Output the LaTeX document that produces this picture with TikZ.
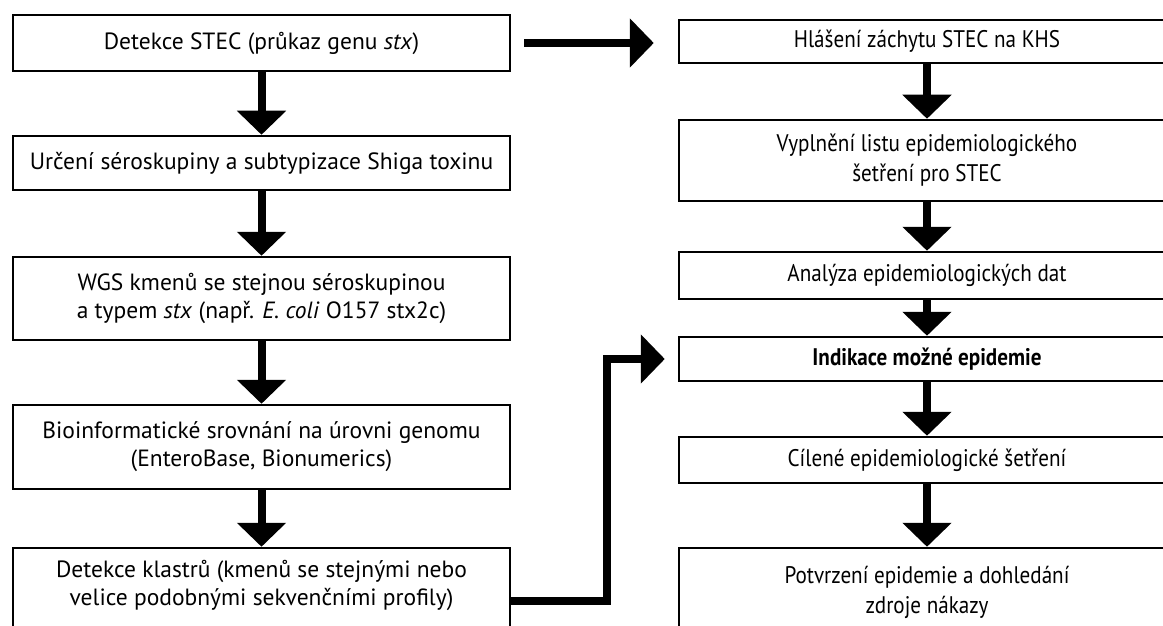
\documentclass[tikz,border=0pt]{standalone}
\usepackage{fontspec}
\setmainfont{PT Sans}
\newfontfamily\condfont{PT Sans}[FakeStretch=0.88]
\usetikzlibrary{arrows.meta}
\begin{document}
\begin{tikzpicture}[x=1pt,y=-1pt,
  lfont/.style={font=\fontsize{23.5}{28}\selectfont},
  rfont/.style={font=\condfont\fontsize{24}{30}\selectfont},
  box/.style={draw, line width=2.5pt, minimum width=497pt, align=center, inner sep=0pt, lfont},
  rbox/.style={draw, line width=2.5pt, minimum width=496pt, align=center, inner sep=0pt, rfont},
  txt/.style={align=center, inner sep=0pt},
  flow/.style={line width=8pt, -{Triangle[length=24pt,width=48pt]}}]
\useasboundingbox (0,0) rectangle (1163,626);
\clip (0,0) rectangle (1163,626);
% left column
\node[box, minimum height=56pt] (l1) at (261.5,43) {Detekce STEC (průkaz genu \emph{stx})};
\node[box, minimum height=54pt] (l2) at (261.5,163) {Určení séroskupiny a subtypizace Shiga toxinu};
\node[box, minimum height=83pt] (l3) at (261.5,298.5) {WGS kmenů se stejnou séroskupinou\\a typem \emph{stx} (např. \emph{E. coli} O157 stx2c)};
\node[box, minimum height=84pt] (l4) at (261.5,447) {Bioinformatické srovnání na úrovni genomu\\(EnteroBase, Bionumerics)};
\node[box, minimum height=90pt] (l5) at (261.5,593) {};
\node[txt, lfont] (l5t) at (261.5,585) {Detekce klastrů (kmenů se stejnými nebo\\velice podobnými sekvenčními profily)};
% right column
\node[rbox, minimum height=43pt] (r1) at (927,41.5) {Hlášení záchytu STEC na KHS};
\node[rbox, minimum height=81pt] (r2) at (927,160.5) {Vyplnění listu epidemiologického\\šetření pro STEC};
\node[rbox, minimum height=47pt] (r3) at (927,275.5) {Analýza epidemiologických dat};
\node[rbox, minimum height=44pt] (r4) at (927,359) {\bfseries Indikace možné epidemie};
\node[rbox, minimum height=46pt] (r5) at (927,460) {Cílené epidemiologické šetření};
\node[rbox, minimum height=90pt] (r6) at (927,593) {};
\node[txt, rfont] (r6t) at (927,592) {Potvrzení epidemie a dohledání\\zdroje nákazy};
% arrows
\draw[flow] (l1) -- (l2);
\draw[flow] (l2) -- (l3);
\draw[flow] (l3) -- (l4);
\draw[flow] (l4) -- (l5);
\draw[flow] (r1) -- (r2);
\draw[flow] (r2) -- (r3);
\draw[flow] (r3) -- (r4);
\draw[flow] (r4) -- (r5);
\draw[flow] (r5) -- (r6);
\draw[flow, shorten <=13pt, shorten >=24pt] (l1.east) -- (l1.east -| r1.west);
\coordinate (e0) at (0,601);
\coordinate (e1) at (607,601);
\draw[flow, shorten >=13pt] (l5.east |- e0) -- (e1) |- (r4.west);
\end{tikzpicture}
\end{document}
